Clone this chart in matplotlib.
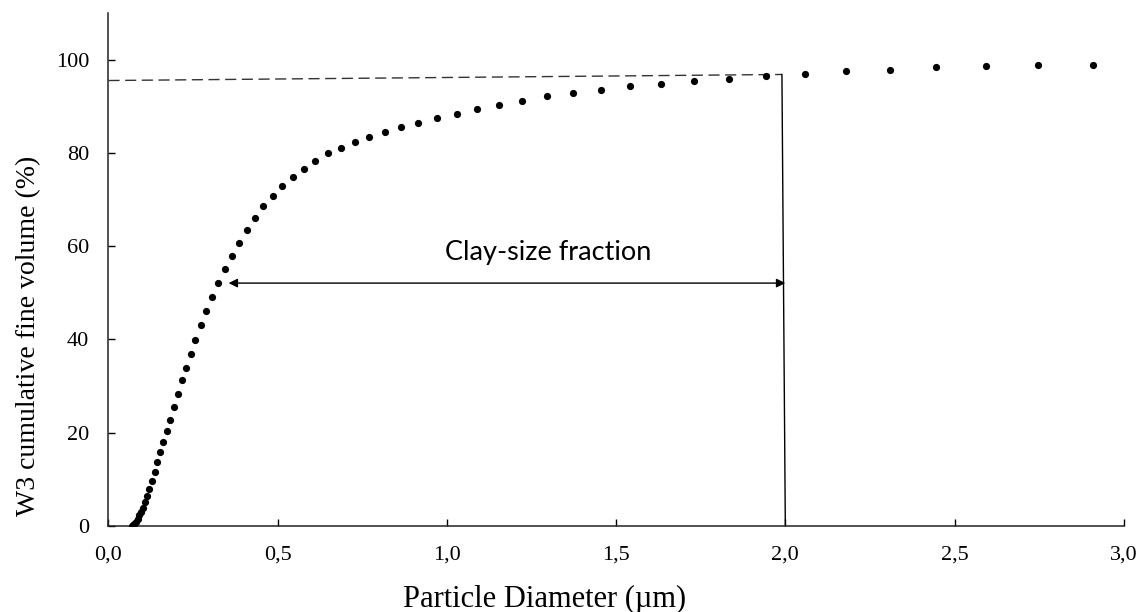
import matplotlib
matplotlib.use("Agg")
import matplotlib.pyplot as plt

# particle diameter (um) and cumulative fine volume (%)
diameter = [0.068, 0.072, 0.076, 0.081, 0.086, 0.091, 0.096, 0.102, 0.108, 0.114,
            0.121, 0.128, 0.136, 0.144, 0.153, 0.162, 0.172, 0.182, 0.193, 0.204,
            0.216, 0.229, 0.243, 0.257, 0.272, 0.289, 0.306, 0.324, 0.343, 0.364,
            0.385, 0.408, 0.432, 0.458, 0.485, 0.514, 0.545, 0.577, 0.611, 0.648,
            0.686, 0.727, 0.770, 0.816, 0.865, 0.916, 0.971, 1.029, 1.090, 1.155,
            1.223, 1.296, 1.373, 1.455, 1.541, 1.633, 1.730, 1.833, 1.942, 2.057,
            2.179, 2.309, 2.446, 2.592, 2.746, 2.909]
volume = [0.0, 0.1, 0.4, 0.9, 1.5, 2.2, 3.0, 3.9, 5.0, 6.3,
          7.9, 9.5, 11.5, 13.6, 15.8, 17.9, 20.4, 22.8, 25.5, 28.2,
          31.3, 33.9, 36.9, 39.9, 43.0, 46.1, 49.1, 52.1, 55.1, 58.0,
          60.7, 63.4, 66.1, 68.6, 70.8, 72.9, 74.9, 76.7, 78.4, 80.0,
          81.1, 82.5, 83.5, 84.6, 85.7, 86.5, 87.5, 88.4, 89.5, 90.3,
          91.3, 92.2, 93.0, 93.5, 94.4, 94.8, 95.4, 95.9, 96.6, 97.1,
          97.6, 97.9, 98.4, 98.7, 98.9, 98.9]

x_ticks = [0.0, 0.5, 1.0, 1.5, 2.0, 2.5, 3.0]
x_tick_labels = ["0,0", "0,5", "1,0", "1,5", "2,0", "2,5", "3,0"]
y_ticks = [0, 20, 40, 60, 80, 100]

# reference lines: dashed plateau line and the 2 um cut
plateau_x = [0.0, 1.99]
plateau_y = [95.6, 96.9]
cut_x = [2.0, 1.99]
cut_y = [0.0, 96.9]
arrow_left, arrow_right, arrow_y = 0.355, 2.0, 52.1

serif = ["Liberation Serif", "DejaVu Serif"]

fig = plt.figure(figsize=(11.42, 6.12), dpi=100)
ax = fig.add_axes([0.095, 0.141, 0.889, 0.837])

ax.plot(diameter, volume, "o", color="black", markersize=5.2, markeredgewidth=0, zorder=3)
ax.plot(plateau_x, plateau_y, color="#333333", lw=1.0, dashes=(8, 4))
ax.plot(cut_x, cut_y, color="black", lw=1.0)

ax.annotate("", xy=(arrow_left, arrow_y), xytext=(arrow_right, arrow_y),
            arrowprops=dict(arrowstyle="<|-|>", color="black", lw=1.0,
                            mutation_scale=13, shrinkA=0, shrinkB=0))
ax.text(1.30, 58.6, "Clay-size fraction", ha="center", va="center",
        fontsize=19.5, family=["Lato", "DejaVu Sans"])

ax.set_xlim(0, 3.0)
ax.set_ylim(0, 110)
ax.set_xticks(x_ticks)
ax.set_xticklabels(x_tick_labels, family=serif, fontsize=16)
ax.set_yticks(y_ticks)
ax.set_yticklabels([str(v) for v in y_ticks], family=serif, fontsize=16)
ax.tick_params(direction="in", length=5, width=1, pad=14, colors="black")

for side in ["top", "right"]:
    ax.spines[side].set_visible(False)
for side in ["left", "bottom"]:
    ax.spines[side].set_linewidth(1.1)
    ax.spines[side].set_color("#222222")

ax.set_xlabel("Particle Diameter (\u00b5m)", family=serif, fontsize=22)
ax.xaxis.set_label_coords(0.43, -0.115)
ax.set_ylabel("W3 cumulative fine volume (%)", family=serif, fontsize=20)
ax.yaxis.set_label_coords(-0.066, 0.37)

fig.savefig("out.png", dpi=100)
